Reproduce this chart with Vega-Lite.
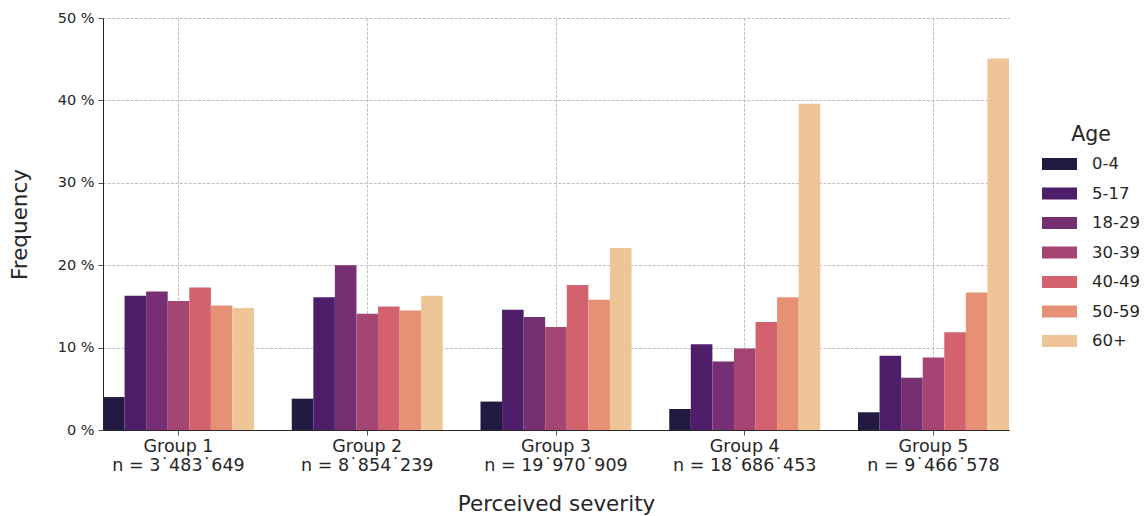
{
  "$schema": "https://vega.github.io/schema/vega-lite/v6.json",
  "width": 906,
  "height": 412,
  "autosize": {"type": "none"},
  "padding": {"left": 103, "top": 18, "right": 135, "bottom": 86},
  "background": "white",
  "config": {
    "font": "DejaVu Sans",
    "view": {"stroke": null},
    "axis": {"labelFont": "DejaVu Sans", "titleFont": "DejaVu Sans", "labelColor": "#262626", "titleColor": "#262626", "titleFontWeight": "normal"},
    "legend": {"labelFont": "DejaVu Sans", "titleFont": "DejaVu Sans"}
  },
  "data": {
    "values": [
      {"group": "Group 1|n = 3˙483˙649", "age": "0-4", "value": 4.0},
      {"group": "Group 1|n = 3˙483˙649", "age": "5-17", "value": 16.3},
      {"group": "Group 1|n = 3˙483˙649", "age": "18-29", "value": 16.8},
      {"group": "Group 1|n = 3˙483˙649", "age": "30-39", "value": 15.65},
      {"group": "Group 1|n = 3˙483˙649", "age": "40-49", "value": 17.3},
      {"group": "Group 1|n = 3˙483˙649", "age": "50-59", "value": 15.1},
      {"group": "Group 1|n = 3˙483˙649", "age": "60+", "value": 14.8},
      {"group": "Group 2|n = 8˙854˙239", "age": "0-4", "value": 3.8},
      {"group": "Group 2|n = 8˙854˙239", "age": "5-17", "value": 16.1},
      {"group": "Group 2|n = 8˙854˙239", "age": "18-29", "value": 20.0},
      {"group": "Group 2|n = 8˙854˙239", "age": "30-39", "value": 14.1},
      {"group": "Group 2|n = 8˙854˙239", "age": "40-49", "value": 15.0},
      {"group": "Group 2|n = 8˙854˙239", "age": "50-59", "value": 14.5},
      {"group": "Group 2|n = 8˙854˙239", "age": "60+", "value": 16.3},
      {"group": "Group 3|n = 19˙970˙909", "age": "0-4", "value": 3.45},
      {"group": "Group 3|n = 19˙970˙909", "age": "5-17", "value": 14.6},
      {"group": "Group 3|n = 19˙970˙909", "age": "18-29", "value": 13.7},
      {"group": "Group 3|n = 19˙970˙909", "age": "30-39", "value": 12.5},
      {"group": "Group 3|n = 19˙970˙909", "age": "40-49", "value": 17.6},
      {"group": "Group 3|n = 19˙970˙909", "age": "50-59", "value": 15.8},
      {"group": "Group 3|n = 19˙970˙909", "age": "60+", "value": 22.1},
      {"group": "Group 4|n = 18˙686˙453", "age": "0-4", "value": 2.55},
      {"group": "Group 4|n = 18˙686˙453", "age": "5-17", "value": 10.4},
      {"group": "Group 4|n = 18˙686˙453", "age": "18-29", "value": 8.3},
      {"group": "Group 4|n = 18˙686˙453", "age": "30-39", "value": 9.9},
      {"group": "Group 4|n = 18˙686˙453", "age": "40-49", "value": 13.1},
      {"group": "Group 4|n = 18˙686˙453", "age": "50-59", "value": 16.1},
      {"group": "Group 4|n = 18˙686˙453", "age": "60+", "value": 39.6},
      {"group": "Group 5|n = 9˙466˙578", "age": "0-4", "value": 2.15},
      {"group": "Group 5|n = 9˙466˙578", "age": "5-17", "value": 9.0},
      {"group": "Group 5|n = 9˙466˙578", "age": "18-29", "value": 6.35},
      {"group": "Group 5|n = 9˙466˙578", "age": "30-39", "value": 8.8},
      {"group": "Group 5|n = 9˙466˙578", "age": "40-49", "value": 11.85},
      {"group": "Group 5|n = 9˙466˙578", "age": "50-59", "value": 16.7},
      {"group": "Group 5|n = 9˙466˙578", "age": "60+", "value": 45.1}
    ]
  },
  "mark": {"type": "bar"},
  "encoding": {
    "x": {
      "field": "group",
      "type": "nominal",
      "sort": null,
      "scale": {"paddingInner": 0.2, "paddingOuter": 0},
      "axis": {
        "title": "Perceived severity",
        "titleFontSize": 21.5,
        "titlePadding": 20,
        "labelFontSize": 17.5,
        "labelAngle": 0,
        "labelExpr": "split(datum.label, '|')",
        "labelLineHeight": 19,
        "labelPadding": 2,
        "grid": true,
        "gridColor": "#b0b0b0",
        "gridDash": [3, 1.5],
        "gridWidth": 0.8,
        "domainColor": "#262626",
        "domainWidth": 1,
        "tickColor": "#262626",
        "tickSize": 5,
        "tickWidth": 0.8,
        "bandPosition": 0.5
      }
    },
    "xOffset": {"field": "age", "type": "nominal", "sort": ["0-4", "5-17", "18-29", "30-39", "40-49", "50-59", "60+"]},
    "y": {
      "field": "value",
      "type": "quantitative",
      "scale": {"domain": [0, 50], "nice": false},
      "axis": {
        "title": "Frequency",
        "titleFontSize": 21.5,
        "titlePadding": 26,
        "labelFontSize": 14.5,
        "values": [0, 10, 20, 30, 40, 50],
        "labelExpr": "datum.value + ' %'",
        "labelPadding": 4,
        "grid": true,
        "gridColor": "#b0b0b0",
        "gridDash": [3, 1.5],
        "gridWidth": 0.8,
        "domainColor": "#262626",
        "domainWidth": 1,
        "tickColor": "#262626",
        "tickSize": 5,
        "tickWidth": 0.8
      }
    },
    "color": {
      "field": "age",
      "type": "nominal",
      "sort": ["0-4", "5-17", "18-29", "30-39", "40-49", "50-59", "60+"],
      "scale": {
        "domain": ["0-4", "5-17", "18-29", "30-39", "40-49", "50-59", "60+"],
        "range": ["#231a42", "#4f1e6b", "#762f72", "#a54574", "#d3626e", "#e69175", "#efc497"]
      },
      "legend": {
        "title": "Age",
        "titleFontSize": 20.5,
        "titleFontWeight": "normal",
        "titleColor": "#262626",
        "titleAnchor": "middle",
        "titlePadding": 1,
        "labelFontSize": 16.5,
        "labelColor": "#262626",
        "orient": "none",
        "legendX": 939,
        "legendY": 107,
        "symbolType": "M-1,-0.343L1,-0.343L1,0.343L-1,0.343Z",
        "symbolSize": 1225,
        "symbolStrokeWidth": 0,
        "symbolOpacity": 1,
        "rowPadding": 3.5,
        "labelOffset": 15
      }
    }
  }
}
